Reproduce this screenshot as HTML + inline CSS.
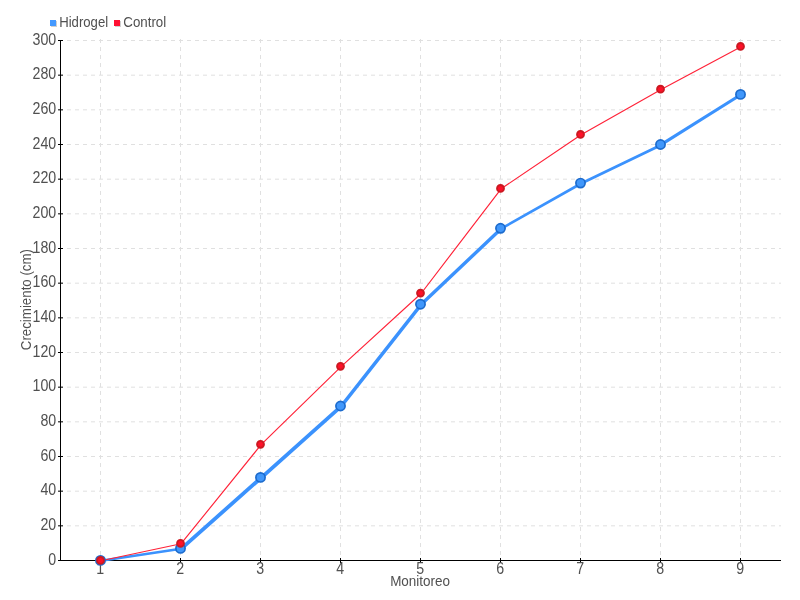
<!DOCTYPE html>
<html lang="es"><head><meta charset="utf-8"><title>Crecimiento</title>
<style>
html,body{margin:0;padding:0;background:#fff;}
body{width:800px;height:600px;overflow:hidden;}
svg{display:block;}
text{font-family:"Liberation Sans",sans-serif;fill:#505050;}
.d{font-size:15.8px;}
.l{font-size:15.3px;}
</style></head><body>
<svg width="800" height="600" viewBox="0 0 800 600">
<rect width="800" height="600" fill="#fff"/>

<g stroke="#e0e0e0" stroke-width="1" stroke-dasharray="4,4" fill="none">
<line x1="59" y1="40.50" x2="781" y2="40.50"/>
<line x1="59" y1="75.17" x2="781" y2="75.17"/>
<line x1="59" y1="109.83" x2="781" y2="109.83"/>
<line x1="59" y1="144.50" x2="781" y2="144.50"/>
<line x1="59" y1="179.17" x2="781" y2="179.17"/>
<line x1="59" y1="213.83" x2="781" y2="213.83"/>
<line x1="59" y1="248.50" x2="781" y2="248.50"/>
<line x1="59" y1="283.17" x2="781" y2="283.17"/>
<line x1="59" y1="317.83" x2="781" y2="317.83"/>
<line x1="59" y1="352.50" x2="781" y2="352.50"/>
<line x1="59" y1="387.17" x2="781" y2="387.17"/>
<line x1="59" y1="421.83" x2="781" y2="421.83"/>
<line x1="59" y1="456.50" x2="781" y2="456.50"/>
<line x1="59" y1="491.17" x2="781" y2="491.17"/>
<line x1="59" y1="525.83" x2="781" y2="525.83"/>
<line x1="100.5" y1="39" x2="100.5" y2="560"/>
<line x1="180.5" y1="39" x2="180.5" y2="560"/>
<line x1="260.5" y1="39" x2="260.5" y2="560"/>
<line x1="340.5" y1="39" x2="340.5" y2="560"/>
<line x1="420.5" y1="39" x2="420.5" y2="560"/>
<line x1="500.5" y1="39" x2="500.5" y2="560"/>
<line x1="580.5" y1="39" x2="580.5" y2="560"/>
<line x1="660.5" y1="39" x2="660.5" y2="560"/>
<line x1="740.5" y1="39" x2="740.5" y2="560"/>
</g>
<g stroke="#000" stroke-width="1">
<line x1="60.5" y1="40" x2="60.5" y2="561"/>
<line x1="60" y1="560.5" x2="781" y2="560.5"/>
<line x1="58" y1="40.50" x2="63" y2="40.50"/>
<line x1="58" y1="75.17" x2="63" y2="75.17"/>
<line x1="58" y1="109.83" x2="63" y2="109.83"/>
<line x1="58" y1="144.50" x2="63" y2="144.50"/>
<line x1="58" y1="179.17" x2="63" y2="179.17"/>
<line x1="58" y1="213.83" x2="63" y2="213.83"/>
<line x1="58" y1="248.50" x2="63" y2="248.50"/>
<line x1="58" y1="283.17" x2="63" y2="283.17"/>
<line x1="58" y1="317.83" x2="63" y2="317.83"/>
<line x1="58" y1="352.50" x2="63" y2="352.50"/>
<line x1="58" y1="387.17" x2="63" y2="387.17"/>
<line x1="58" y1="421.83" x2="63" y2="421.83"/>
<line x1="58" y1="456.50" x2="63" y2="456.50"/>
<line x1="58" y1="491.17" x2="63" y2="491.17"/>
<line x1="58" y1="525.83" x2="63" y2="525.83"/>
<line x1="58" y1="560.50" x2="63" y2="560.50"/>
<line x1="100.5" y1="558" x2="100.5" y2="563"/>
<line x1="180.5" y1="558" x2="180.5" y2="563"/>
<line x1="260.5" y1="558" x2="260.5" y2="563"/>
<line x1="340.5" y1="558" x2="340.5" y2="563"/>
<line x1="420.5" y1="558" x2="420.5" y2="563"/>
<line x1="500.5" y1="558" x2="500.5" y2="563"/>
<line x1="580.5" y1="558" x2="580.5" y2="563"/>
<line x1="660.5" y1="558" x2="660.5" y2="563"/>
<line x1="740.5" y1="558" x2="740.5" y2="563"/>
</g>
<text class="d" transform="translate(56.2,45) scale(0.9,1)" text-anchor="end">300</text>
<text class="d" transform="translate(56.2,79) scale(0.9,1)" text-anchor="end">280</text>
<text class="d" transform="translate(56.2,114) scale(0.9,1)" text-anchor="end">260</text>
<text class="d" transform="translate(56.2,149) scale(0.9,1)" text-anchor="end">240</text>
<text class="d" transform="translate(56.2,183) scale(0.9,1)" text-anchor="end">220</text>
<text class="d" transform="translate(56.2,218) scale(0.9,1)" text-anchor="end">200</text>
<text class="d" transform="translate(56.2,253) scale(0.9,1)" text-anchor="end">180</text>
<text class="d" transform="translate(56.2,287) scale(0.9,1)" text-anchor="end">160</text>
<text class="d" transform="translate(56.2,322) scale(0.9,1)" text-anchor="end">140</text>
<text class="d" transform="translate(56.2,357) scale(0.9,1)" text-anchor="end">120</text>
<text class="d" transform="translate(56.2,391) scale(0.9,1)" text-anchor="end">100</text>
<text class="d" transform="translate(56.2,426) scale(0.9,1)" text-anchor="end">80</text>
<text class="d" transform="translate(56.2,461) scale(0.9,1)" text-anchor="end">60</text>
<text class="d" transform="translate(56.2,495) scale(0.9,1)" text-anchor="end">40</text>
<text class="d" transform="translate(56.2,530) scale(0.9,1)" text-anchor="end">20</text>
<text class="d" transform="translate(56.2,565) scale(0.9,1)" text-anchor="end">0</text>
<text class="d" transform="translate(100.1,574) scale(0.9,1)" text-anchor="middle">1</text>
<text class="d" transform="translate(180.1,574) scale(0.9,1)" text-anchor="middle">2</text>
<text class="d" transform="translate(260.1,574) scale(0.9,1)" text-anchor="middle">3</text>
<text class="d" transform="translate(340.1,574) scale(0.9,1)" text-anchor="middle">4</text>
<text class="d" transform="translate(420.1,574) scale(0.9,1)" text-anchor="middle">5</text>
<text class="d" transform="translate(500.1,574) scale(0.9,1)" text-anchor="middle">6</text>
<text class="d" transform="translate(580.1,574) scale(0.9,1)" text-anchor="middle">7</text>
<text class="d" transform="translate(660.1,574) scale(0.9,1)" text-anchor="middle">8</text>
<text class="d" transform="translate(740.1,574) scale(0.9,1)" text-anchor="middle">9</text>
<text class="l" transform="translate(420.1,586) scale(0.882,1)" text-anchor="middle">Monitoreo</text>
<text class="l" transform="translate(30.6,299.6) rotate(-90) scale(0.87,1)" text-anchor="middle">Crecimiento (cm)</text>
<rect x="51" y="21" width="6" height="6" fill="#cfcfcf"/>
<rect x="50" y="20" width="6" height="6" fill="#4499ff"/>
<text class="l" transform="translate(59.2,26.5) scale(0.86,1)">Hidrogel</text>
<rect x="115" y="21" width="6" height="6" fill="#cfcfcf"/>
<rect x="114" y="20" width="6" height="6" fill="#ff1133"/>
<text class="l" transform="translate(123.3,26.5) scale(0.87,1)">Control</text>
<g fill="none" stroke="#3b92fd" stroke-linecap="round">
<line x1="101.1" y1="560.8" x2="181.1" y2="548.8" stroke-width="2.6"/>
<line x1="181.1" y1="548.8" x2="261.1" y2="477.8" stroke-width="3.8"/>
<line x1="261.1" y1="477.8" x2="341.1" y2="406.4" stroke-width="3.8"/>
<line x1="341.1" y1="406.4" x2="421.1" y2="304.6" stroke-width="3.4"/>
<line x1="421.1" y1="304.6" x2="501.1" y2="228.7" stroke-width="3.4"/>
<line x1="501.1" y1="228.7" x2="581.1" y2="183.5" stroke-width="2.6"/>
<line x1="581.1" y1="183.5" x2="661.1" y2="144.9" stroke-width="2.8"/>
<line x1="661.1" y1="144.6" x2="741.1" y2="94.5" stroke-width="3.1"/>
</g>
<polyline points="100.5,560.4 180.5,543.3 260.5,444.3 340.5,366.3 420.5,293.1 500.5,188.4 580.5,134.4 660.5,89.2 740.5,46.4" fill="none" stroke="#ff2238" stroke-width="1.15" stroke-linejoin="round" transform="translate(0.6,0.4)"/>
<circle cx="100.5" cy="560.4" r="4.6" fill="#4097fb" stroke="#1c6bcd" stroke-width="1.7"/>
<circle cx="180.5" cy="548.4" r="4.6" fill="#4097fb" stroke="#1c6bcd" stroke-width="1.7"/>
<circle cx="260.5" cy="477.4" r="4.6" fill="#4097fb" stroke="#1c6bcd" stroke-width="1.7"/>
<circle cx="340.5" cy="406.0" r="4.6" fill="#4097fb" stroke="#1c6bcd" stroke-width="1.7"/>
<circle cx="420.5" cy="304.2" r="4.6" fill="#4097fb" stroke="#1c6bcd" stroke-width="1.7"/>
<circle cx="500.5" cy="228.3" r="4.6" fill="#4097fb" stroke="#1c6bcd" stroke-width="1.7"/>
<circle cx="580.5" cy="183.1" r="4.6" fill="#4097fb" stroke="#1c6bcd" stroke-width="1.7"/>
<circle cx="660.5" cy="144.5" r="4.6" fill="#4097fb" stroke="#1c6bcd" stroke-width="1.7"/>
<circle cx="740.5" cy="94.4" r="4.6" fill="#4097fb" stroke="#1c6bcd" stroke-width="1.7"/>
<circle cx="100.5" cy="560.4" r="3.45" fill="#ff1029" stroke="#cb1921" stroke-width="1.9"/>
<circle cx="180.5" cy="543.3" r="3.45" fill="#ff1029" stroke="#cb1921" stroke-width="1.9"/>
<circle cx="260.5" cy="444.3" r="3.45" fill="#ff1029" stroke="#cb1921" stroke-width="1.9"/>
<circle cx="340.5" cy="366.3" r="3.45" fill="#ff1029" stroke="#cb1921" stroke-width="1.9"/>
<circle cx="420.5" cy="293.1" r="3.45" fill="#ff1029" stroke="#cb1921" stroke-width="1.9"/>
<circle cx="500.5" cy="188.4" r="3.45" fill="#ff1029" stroke="#cb1921" stroke-width="1.9"/>
<circle cx="580.5" cy="134.4" r="3.45" fill="#ff1029" stroke="#cb1921" stroke-width="1.9"/>
<circle cx="660.5" cy="89.2" r="3.45" fill="#ff1029" stroke="#cb1921" stroke-width="1.9"/>
<circle cx="740.5" cy="46.4" r="3.45" fill="#ff1029" stroke="#cb1921" stroke-width="1.9"/>
</svg></body></html>
